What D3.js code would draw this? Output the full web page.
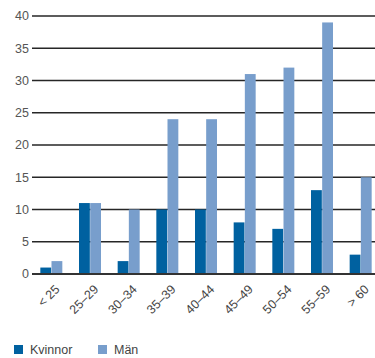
<!DOCTYPE html>
<html>
<head>
<meta charset="utf-8">
<script src="https://cdn.jsdelivr.net/npm/d3@7"></script>
<style>
  body { margin: 0; background: #fff; }
  text { font-family: "Liberation Sans", Arial, sans-serif; }
</style>
</head>
<body>
<div id="chart-container"></div>
<script>
const categories = ["< 25", "25–29", "30–34", "35–39", "40–44", "45–49", "50–54", "55–59", "> 60"];
const kvinnor = [1, 11, 2, 10, 10, 8, 7, 13, 3];
const man = [2, 11, 10, 24, 24, 31, 32, 39, 15];
const yTicks = [0, 5, 10, 15, 20, 25, 30, 35, 40];
const seriesNames = ["Kvinnor", "Män"];
const colors = ["#0061a0", "#789ecc"];

const width = 375, height = 358;
const plotLeft = 32, plotRight = 380, plotTop = 16, plotBottom = 274;

const svg = d3.select("#chart-container")
  .append("svg")
    .attr("width", width)
    .attr("height", height);

const x = d3.scaleBand()
  .domain(categories)
  .range([plotLeft, plotRight]);

const x1 = d3.scaleBand()
  .domain(seriesNames)
  .range([0, 22])
  .paddingInner(0.03);

const y = d3.scaleLinear()
  .domain([0, 40])
  .range([plotBottom, plotTop]);

// gridlines
svg.selectAll(".grid")
  .data(yTicks.slice(1))
  .join("line")
  .attr("x1", plotLeft)
  .attr("x2", width)
  .attr("y1", d => y(d))
  .attr("y2", d => y(d))
  .attr("stroke", "#262626")
  .attr("stroke-width", 1.3);

// y tick labels
svg.selectAll(".ylab")
  .data(yTicks)
  .join("text")
  .attr("x", 29)
  .attr("y", d => y(d))
  .attr("dy", "0.35em")
  .attr("text-anchor", "end")
  .style("font-size", "12.5px")
  .style("fill", "#555")
  .text(d => d);

// bars
const data = categories.map((c, i) => ({ cat: c, vals: [kvinnor[i], man[i]] }));

const groups = svg.selectAll(".grp")
  .data(data)
  .join("g")
  .attr("transform", d => `translate(${x(d.cat) + (x.bandwidth() - 22) / 2},0)`);

groups.selectAll("rect")
  .data(d => d.vals.map((v, j) => ({ name: seriesNames[j], v: v, j: j })))
  .join("rect")
  .attr("x", d => x1(d.name))
  .attr("width", x1.bandwidth())
  .attr("y", d => y(d.v))
  .attr("height", d => y(0) - y(d.v))
  .attr("fill", d => colors[d.j]);

// baseline
svg.append("line")
  .attr("x1", plotLeft)
  .attr("x2", width)
  .attr("y1", y(0))
  .attr("y2", y(0))
  .attr("stroke", "#333")
  .attr("stroke-width", 2);

// x labels
svg.selectAll(".xlab")
  .data(categories)
  .join("text")
  .attr("transform", d => `translate(${x(d) + x.bandwidth() / 2 + 6},${plotBottom + 13}) rotate(-45)`)
  .attr("text-anchor", "end")
  .attr("dy", "0.35em")
  .style("font-size", "12.5px")
  .style("fill", "#444")
  .text(d => d);

// legend
const legend = svg.selectAll(".leg")
  .data(seriesNames)
  .join("g")
  .attr("transform", (d, i) => `translate(${i === 0 ? 14 : 98},345)`);

legend.append("rect")
  .attr("width", 9)
  .attr("height", 9)
  .attr("fill", (d, i) => colors[i]);

legend.append("text")
  .attr("x", 16)
  .attr("y", 5)
  .attr("dy", "0.35em")
  .style("font-size", "12.5px")
  .style("fill", "#444")
  .text(d => d);
</script>
</body>
</html>
